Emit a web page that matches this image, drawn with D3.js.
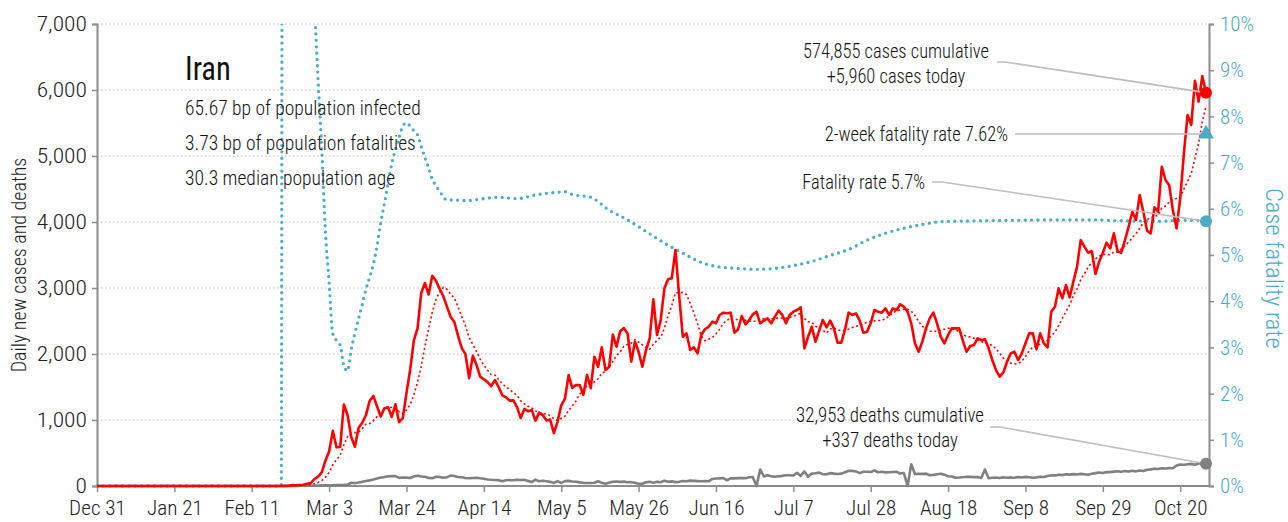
<!DOCTYPE html>
<html><head><meta charset="utf-8">
<script src="https://cdn.jsdelivr.net/npm/d3@7"></script>
<style>
body{margin:0;background:#fff;}
svg{display:block;font-family:"Roboto Condensed","Liberation Sans Narrow",sans-serif;font-weight:300;}
</style></head><body>
<svg id="chart" width="1288" height="522"></svg>
<script>
// ---------- data ----------
const startDate = "2019-12-31";
const firstCaseDate = "2020-02-20";
const lastDate = "2020-10-27";

const dailyCases = [2,3,13,10,15,18,34,44,106,143,
205,385,523,835,586,591,1234,1076,743,595,
881,958,1075,1289,1365,1209,1053,1178,1192,1046,
1237,966,1028,1411,1762,2206,2389,2926,3076,2901,
3186,3110,2987,2875,2715,2560,2483,2274,2089,1997,
1634,1972,1837,1657,1617,1574,1512,1606,1499,1374,
1343,1294,1297,1194,1030,1168,1134,1153,991,1112,
1073,993,1006,802,976,1223,1323,1680,1485,1529,
1529,1383,1683,1481,1958,1808,2102,1757,1806,2294,
2111,2346,2392,2311,1884,2187,2035,1808,2055,2238,
2828,2288,2515,2995,3131,3146,3576,2886,2262,2313,
2061,2101,2010,2288,2374,2414,2490,2465,2591,2626,
2616,2626,2323,2374,2576,2449,2515,2600,2641,2465,
2505,2540,2465,2566,2657,2591,2465,2591,2641,2667,
2707,2086,2263,2414,2187,2354,2515,2404,2505,2389,
2172,2172,2364,2626,2591,2616,2505,2323,2338,2465,
2667,2641,2626,2692,2591,2692,2667,2753,2717,2641,
2465,2162,2035,2187,2389,2540,2626,2465,2263,2162,
2288,2389,2389,2389,2202,2035,2121,2136,2237,2212,
2222,2086,1909,1757,1657,1720,1884,2010,2035,1909,
2010,2162,2313,2313,2071,2313,2162,2101,2641,2717,
2995,2843,3045,2858,3096,3323,3727,3626,3535,3560,
3212,3399,3535,3687,3600,3828,3555,3535,3727,3929,
4156,4030,4409,4156,3869,3828,4222,4156,4838,4636,
4560,4182,3904,4359,5040,5621,5470,6141,5823,6212,5960];

const dailyDeaths = [2,0,2,1,3,4,4,3,7,8,
9,11,12,11,15,15,17,21,49,43,
54,63,75,85,97,113,129,135,147,149,
149,123,129,127,122,143,157,144,139,123,
117,141,138,124,134,158,151,136,133,121,
117,122,125,117,111,98,94,92,89,73,
87,91,88,94,90,93,76,60,96,71,
80,71,63,47,74,47,74,78,68,65,
55,48,45,45,50,71,48,35,51,65,
69,62,66,57,58,50,34,34,57,63,
50,63,57,81,64,70,59,63,75,72,
81,78,74,71,75,71,107,113,115,120,
87,116,115,119,121,119,133,134,0,250,
144,162,147,141,148,154,163,163,160,200,
153,221,142,188,194,203,179,179,195,188,
183,188,209,229,229,221,195,216,216,212,
235,208,215,206,208,212,215,189,196,0,
330,181,184,183,187,163,169,179,186,172,
148,143,125,128,133,139,141,134,135,122,
250,117,125,128,120,132,126,130,124,135,
128,138,132,126,131,140,136,150,162,158,
170,165,178,172,180,175,184,178,170,185,
195,205,198,212,210,218,224,215,226,220,
230,222,235,228,245,252,262,258,270,265,
272,268,310,325,322,330,335,322,340,346,337];

// cumulative case fatality rate (%) read at these dates
const cfrDates = ["2019-12-31","2020-02-19","2020-02-20","2020-02-21","2020-02-22","2020-02-23","2020-02-24","2020-02-25","2020-02-26","2020-02-27","2020-02-28","2020-02-29",
"2020-03-01","2020-03-02","2020-03-03","2020-03-04","2020-03-05","2020-03-06","2020-03-07","2020-03-08","2020-03-09","2020-03-10","2020-03-11","2020-03-12","2020-03-13","2020-03-14","2020-03-15","2020-03-16","2020-03-17","2020-03-18","2020-03-19","2020-03-20","2020-03-21","2020-03-22","2020-03-23","2020-03-24","2020-03-25","2020-03-26","2020-03-27","2020-03-28","2020-03-29","2020-03-30","2020-03-31",
"2020-04-01","2020-04-02","2020-04-03","2020-04-04","2020-04-06","2020-04-08","2020-04-10","2020-04-13","2020-04-18","2020-04-23","2020-04-28",
"2020-05-03","2020-05-06","2020-05-08","2020-05-13","2020-05-18","2020-05-23","2020-05-28","2020-06-02","2020-06-07","2020-06-12","2020-06-17","2020-06-22","2020-06-27",
"2020-07-02","2020-07-07","2020-07-12","2020-07-17","2020-07-22","2020-07-27","2020-08-01","2020-08-06","2020-08-11","2020-08-16","2020-08-26","2020-09-05","2020-09-15","2020-09-25","2020-10-05","2020-10-15","2020-10-20","2020-10-27"];
const cfrPct = [0,0,100,40,22.2,17.9,18.6,19.7,16.8,13.7,10.6,8.8,
7.3,5.5,4.4,3.3,3.15,3.05,2.61,2.49,2.95,3.31,3.62,3.93,4.26,4.52,4.80,5.19,5.69,6.11,6.54,6.98,7.29,7.55,7.79,7.86,7.79,7.69,7.60,7.35,7.11,6.89,6.64,
6.50,6.38,6.26,6.19,6.19,6.18,6.18,6.21,6.25,6.22,6.30,6.35,
6.37,6.31,6.25,5.97,5.76,5.51,5.26,5.04,4.84,4.74,4.71,4.69,4.71,
4.77,4.86,4.99,5.12,5.32,5.47,5.58,5.66,5.72,5.74,5.75,5.76,5.76,5.74,5.73,5.75,5.75,5.73];

const leftTicks = [0,1000,2000,3000,4000,5000,6000,7000];
const rightTicks = [0,1,2,3,4,5,6,7,8,9,10];
const xTickDates = ["2019-12-31","2020-01-21","2020-02-11","2020-03-03","2020-03-24","2020-04-14","2020-05-05","2020-05-26","2020-06-16","2020-07-07","2020-07-28","2020-08-18","2020-09-08","2020-09-29","2020-10-20"];

const countryName = "Iran";
const infoLines = ["65.67 bp of population infected","3.73 bp of population fatalities","30.3 median population age"];
const totalCases = 574855, todayCases = 5960, totalDeaths = 32953, todayDeaths = 337;
const twoWeekRate = 7.62, fatalityRate = 5.73;

// ---------- layout ----------
const L = 97, R = 1206, RA = 1209, T = 24, B = 486;
const RED = "#ff0000", GRAY = "#808080", TEAL = "#4bacc6", AXIS = "#8c8c8c";
const FONT = "'Roboto Condensed','Liberation Sans Narrow',sans-serif";

const parse = d3.utcParse("%Y-%m-%d");
const svg = d3.select("#chart");
const x = d3.scaleUtc().domain([parse(startDate), parse(lastDate)]).range([L, R]);
const y = d3.scaleLinear().domain([0, 7000]).range([B, T]);
const yR = d3.scaleLinear().domain([0, 10]).range([B, T]);

const first = parse(firstCaseDate);
const lead = [{date: parse(startDate), v: 0}, {date: d3.utcDay.offset(first, -1), v: 0}];
const casesSeries = lead.concat(dailyCases.map((v, i) => ({date: d3.utcDay.offset(first, i), v})));
const deathsSeries = lead.concat(dailyDeaths.map((v, i) => ({date: d3.utcDay.offset(first, i), v})));
// trailing 7-day average of the daily cases
const avgSeries = lead.concat(dailyCases.map((v, i) => ({date: d3.utcDay.offset(first, i),
  v: d3.sum(dailyCases.slice(Math.max(0, i - 6), i + 1)) / 7})));
const cfrSeries = cfrDates.map((d, i) => ({date: parse(d), v: cfrPct[i]}));

// clip
svg.append("defs").append("clipPath").attr("id", "plot")
  .append("rect").attr("x", L - 5).attr("y", T).attr("width", RA - L + 15).attr("height", B - T + 6);

// gridlines
svg.append("g").selectAll("line").data(leftTicks.filter(d => d > 0)).join("line")
  .attr("x1", L).attr("x2", RA).attr("y1", d => y(d)).attr("y2", d => y(d))
  .attr("stroke", "#b8b8b8").attr("stroke-width", 1).attr("stroke-dasharray", "1.5,2.5");

// axes
const gL = svg.append("g").attr("transform", `translate(${L},0)`)
  .call(d3.axisLeft(y).tickValues(leftTicks).tickFormat(d3.format(",")).tickSize(5).tickPadding(4));
const gX = svg.append("g").attr("transform", `translate(0,${B})`)
  .call(d3.axisBottom(x).tickValues(xTickDates.map(parse)).tickFormat(d3.utcFormat("%b %-d")).tickSize(6).tickPadding(9));
const gR = svg.append("g").attr("transform", `translate(${RA},0)`)
  .call(d3.axisRight(yR).tickValues(rightTicks).tickFormat(d => d + "%").tickSize(5).tickPadding(6));
gX.select(".domain").attr("d", `M${L},0H${RA}`);
[gL, gX, gR].forEach(g => {
  g.attr("font-family", FONT);
  g.select(".domain").attr("stroke", AXIS).attr("stroke-width", 2);
  g.selectAll(".tick line").attr("stroke", AXIS).attr("stroke-width", 1.5);
  g.selectAll(".tick text").attr("font-size", 20).attr("fill", "#222").attr("font-weight", 300);
});
gX.selectAll(".tick text").attr("font-size", 20).attr("transform", "scale(1.06,1)");
gR.selectAll(".tick text").attr("fill", TEAL).attr("font-size", 21);
gL.selectAll(".tick text").attr("font-size", 21).attr("transform", "scale(1.12,1)");

// axis titles
svg.append("text").attr("transform", `translate(26,${(T + B) / 2 + 10}) rotate(-90)`)
  .attr("text-anchor", "middle").attr("font-size", 20).attr("fill", "#222").text("Daily new cases and deaths");
svg.append("text").attr("transform", `translate(1266,188) rotate(90)`)
  .attr("text-anchor", "start").attr("font-size", 24.5).attr("fill", TEAL).text("Case fatality rate");

const plot = svg.append("g").attr("clip-path", "url(#plot)");
const line = (sc) => d3.line().x(d => x(d.date)).y(d => sc(d.v));

// CFR dotted
plot.append("path").datum(cfrSeries)
  .attr("d", d3.line().x(d => x(d.date)).y(d => yR(d.v)).curve(d3.curveMonotoneX))
  .attr("fill", "none").attr("stroke", TEAL).attr("stroke-width", 3.3)
  .attr("stroke-linecap", "round").attr("stroke-dasharray", "0,6.4");
// deaths
plot.append("path").datum(deathsSeries).attr("d", line(y))
  .attr("fill", "none").attr("stroke", GRAY).attr("stroke-width", 2.6).attr("stroke-linejoin", "round");
// 7-day average
plot.append("path").datum(avgSeries).attr("d", line(y))
  .attr("fill", "none").attr("stroke", RED).attr("stroke-width", 1.6).attr("stroke-dasharray", "2,2.6");
// cases
plot.append("path").datum(casesSeries).attr("d", line(y))
  .attr("fill", "none").attr("stroke", RED).attr("stroke-width", 2.6).attr("stroke-linejoin", "round");

// text helper: horizontally condensed real text
const stext = (g, xx, yy, s, anchor, size, sx, weight) => g.append("text")
  .attr("transform", `translate(${xx},${yy}) scale(${sx},1)`)
  .attr("text-anchor", anchor).attr("font-size", size).attr("font-weight", weight || 300)
  .attr("fill", "#111").text(s);

// title block
const tb = svg.append("g");
stext(tb, 185, 80, countryName, "start", 34, 0.9, 400);
infoLines.forEach((s, i) => stext(tb, 185, 115 + i * 35, s, "start", 21, 0.93));

// annotations
const ex = x(parse(lastDate));
const ann = svg.append("g");
const fmt = d3.format(",");
const leader = (pts) => ann.append("path").attr("d", d3.line()(pts)).attr("fill", "none")
  .attr("stroke", "#bdbdbd").attr("stroke-width", 1.6);
leader([[997, 62], [1005, 62], [ex, y(todayCases)]]);
leader([[1015, yR(twoWeekRate)], [ex, yR(twoWeekRate)]]);
leader([[932, 182], [942, 182], [ex, yR(fatalityRate)]]);
leader([[990, 427], [1000, 427], [ex, y(todayDeaths)]]);

stext(ann, 896, 58, `${fmt(totalCases)} cases cumulative`, "middle", 21, 0.88);
stext(ann, 896, 83, `+${fmt(todayCases)} cases today`, "middle", 21, 0.88);
stext(ann, 1008, 141, `2-week fatality rate ${twoWeekRate}%`, "end", 21, 0.88);
stext(ann, 925, 189, `Fatality rate ${d3.format(".1f")(fatalityRate)}%`, "end", 21, 0.88);
stext(ann, 890, 422, `${fmt(totalDeaths)} deaths cumulative`, "middle", 21, 0.9);
stext(ann, 890, 447, `+${todayDeaths} deaths today`, "middle", 21, 0.9);

// end markers
ann.append("circle").attr("cx", ex).attr("cy", y(todayCases)).attr("r", 6).attr("fill", RED);
ann.append("circle").attr("cx", ex).attr("cy", yR(fatalityRate)).attr("r", 6).attr("fill", TEAL);
ann.append("circle").attr("cx", ex).attr("cy", y(todayDeaths)).attr("r", 6).attr("fill", GRAY);
ann.append("path").attr("d", d3.symbol(d3.symbolTriangle, 110)())
  .attr("transform", `translate(${ex},${yR(twoWeekRate)})`).attr("fill", TEAL);
</script>
</body></html>
